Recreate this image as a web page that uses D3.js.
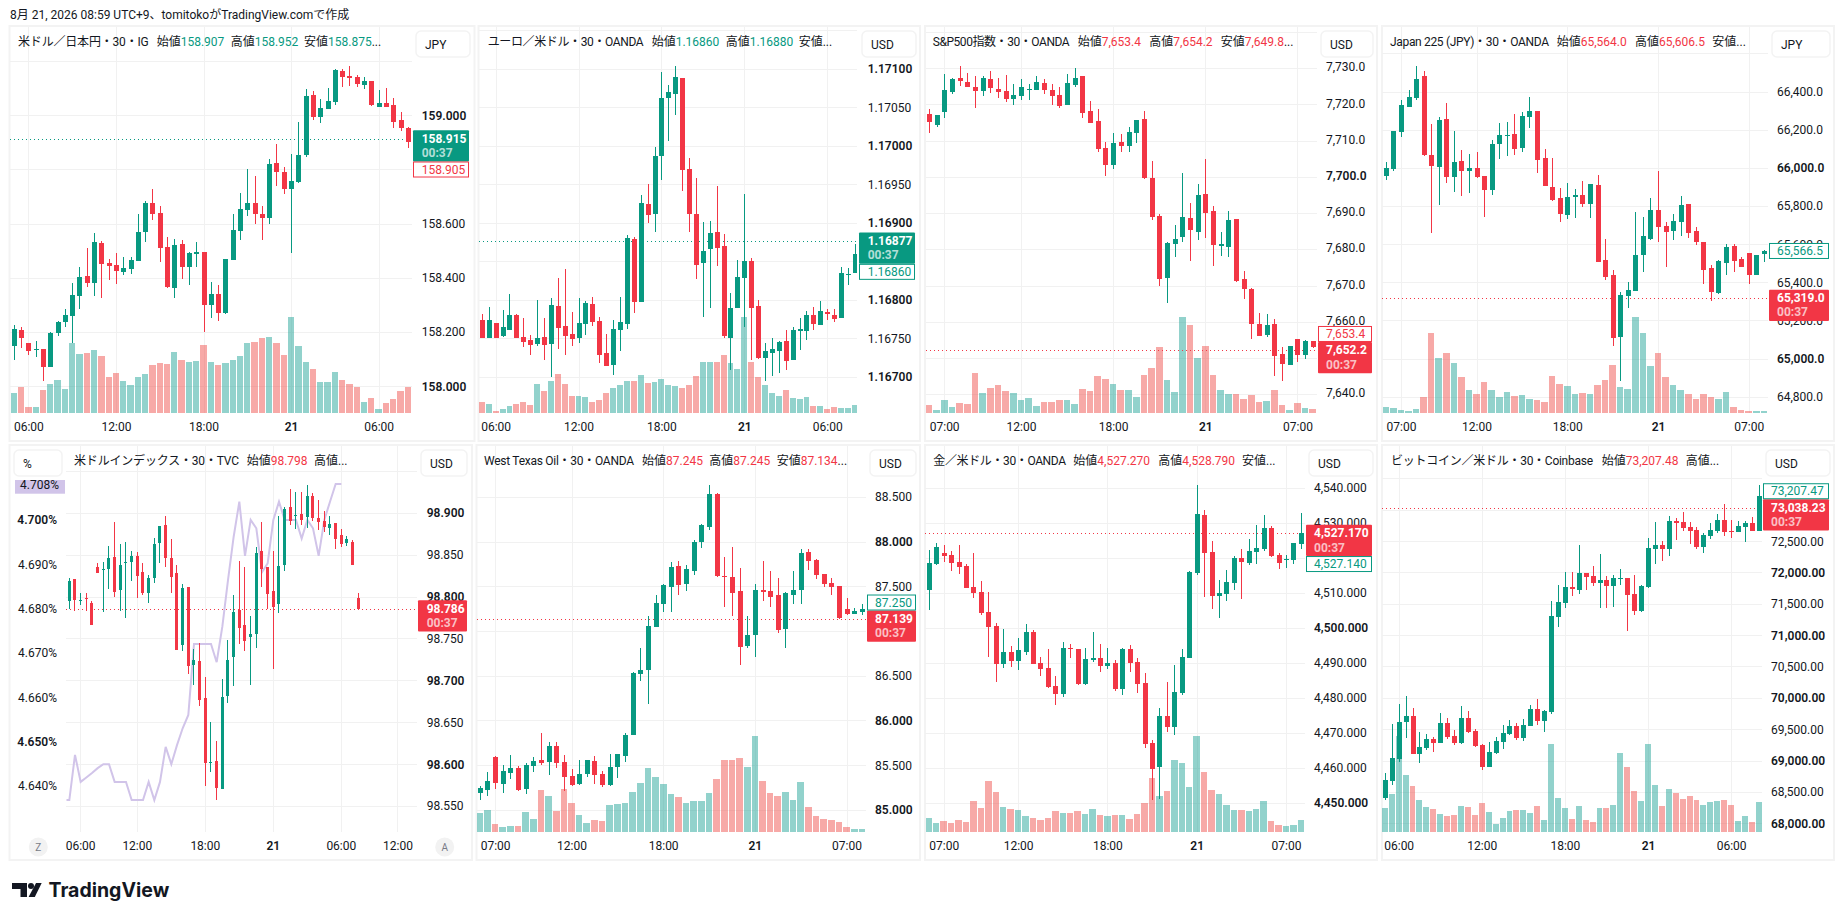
<!DOCTYPE html>
<html><head><meta charset="utf-8">
<script src="https://cdn.jsdelivr.net/npm/d3@7"></script>
<style>html,body{margin:0;padding:0;background:#fff;overflow:hidden}svg{display:block}text{font-family:Roboto,"Noto Sans CJK JP",sans-serif;font-size:12px;fill:#131722}</style>
</head><body><svg id="c" width="1844" height="920"></svg>
<script>
// ---------- DATA: [open, high, low, close] per 30-minute bar, volume in relative units ----------
const usdjpyOHLC=[[158.151,158.228,158.098,158.213],[158.209,158.220,158.143,158.181],[158.161,158.161,158.118,158.133],[158.135,158.169,158.111,158.139],[158.139,158.139,158.021,158.073],[158.074,158.202,158.074,158.198],[158.198,158.242,158.188,158.239],[158.239,158.287,158.220,158.264],[158.261,158.383,158.162,158.338],[158.335,158.442,158.287,158.405],[158.408,158.512,158.368,158.383],[158.383,158.567,158.335,158.534],[158.530,158.538,158.327,158.453],[158.456,158.471,158.394,158.445],[158.449,158.493,158.379,158.427],[158.423,158.478,158.412,158.438],[158.434,158.478,158.416,158.467],[158.464,158.637,158.464,158.571],[158.571,158.685,158.534,158.678],[158.678,158.729,158.615,158.637],[158.641,158.667,158.460,158.512],[158.515,158.552,158.364,158.368],[158.364,158.545,158.327,158.523],[158.526,158.541,158.397,158.442],[158.442,158.497,158.375,158.493],[158.490,158.534,158.442,158.497],[158.497,158.497,158.202,158.301],[158.301,158.386,158.253,158.342],[158.342,158.375,158.242,158.272],[158.272,158.471,158.268,158.471],[158.467,158.637,158.467,158.578],[158.574,158.715,158.541,158.656],[158.652,158.803,158.630,158.678],[158.678,158.777,158.600,158.637],[158.637,158.667,158.541,158.622],[158.622,158.840,158.600,158.822],[158.825,158.895,158.740,158.792],[158.792,158.811,158.711,158.729],[158.729,158.859,158.493,158.759],[158.755,158.977,158.752,158.855],[158.855,159.098,158.847,159.073],[159.076,159.091,158.984,158.995],[158.995,159.062,158.973,159.028],[159.025,159.102,159.025,159.054],[159.050,159.172,159.039,159.169],[159.165,159.172,159.106,159.143],[159.146,159.183,159.109,159.139],[159.143,159.150,159.106,159.117],[159.113,159.143,159.098,159.128],[159.128,159.128,159.036,159.039],[159.032,159.095,159.032,159.047],[159.047,159.102,159.032,159.032],[159.039,159.065,158.955,158.977],[158.984,159.014,158.943,158.955],[158.955,158.958,158.881,158.903]];
const usdjpyVolume=[60,78,18,18,69,87,99,72,210,177,180,189,171,108,120,96,84,108,117,144,150,147,183,159,153,156,204,153,144,150,159,171,210,213,225,228,210,174,288,201,153,132,93,93,123,99,87,78,33,45,12,30,42,66,78];
const usdjpyTicks=[158,158.2,158.4,158.6,158.8,159,159.2];
const usdjpyTickLabels=[158,158.2,158.4,158.6,159];
const usdjpyTimeIndex=[2,14,26,38,50];
const usdjpyTimeLabels=['06:00','12:00','18:00','21','06:00'];
const usdjpyLegend=['158.907','158.952','158.875'];

const eurusdOHLC=[[1.16774,1.16782,1.16751,1.16751],[1.16751,1.16791,1.16751,1.16774],[1.1677,1.1677,1.16751,1.16751],[1.16754,1.16787,1.16752,1.16765],[1.16761,1.16808,1.16761,1.16781],[1.16781,1.16782,1.16751,1.16751],[1.16752,1.16777,1.16739,1.16746],[1.16748,1.16755,1.16729,1.16742],[1.16743,1.168,1.16741,1.16751],[1.16752,1.16777,1.16722,1.16742],[1.16743,1.16803,1.167,1.16794],[1.16793,1.16829,1.16737,1.16764],[1.16767,1.16841,1.16729,1.16754],[1.16756,1.16785,1.16741,1.1675],[1.16751,1.16803,1.16745,1.1677],[1.16769,1.16799,1.16755,1.16796],[1.16795,1.16804,1.16767,1.16772],[1.16773,1.16778,1.16719,1.16729],[1.16732,1.16756,1.16715,1.16715],[1.16716,1.16774,1.16703,1.16763],[1.16761,1.16804,1.16734,1.16772],[1.16769,1.16885,1.16763,1.16881],[1.1688,1.16882,1.16783,1.16798],[1.16798,1.16937,1.16798,1.16926],[1.16925,1.16951,1.169,1.16911],[1.16912,1.16999,1.16889,1.16987],[1.16987,1.17097,1.16956,1.17063],[1.17063,1.1708,1.17007,1.17071],[1.17068,1.17104,1.17041,1.1709],[1.17089,1.17089,1.16942,1.16969],[1.16971,1.16985,1.16889,1.16912],[1.16912,1.16959,1.16828,1.16846],[1.16848,1.16902,1.16778,1.16864],[1.16867,1.16903,1.1679,1.16887],[1.16889,1.16948,1.16845,1.16868],[1.16871,1.16886,1.16751,1.16754],[1.16751,1.16809,1.16709,1.1679],[1.1679,1.16852,1.1679,1.1683],[1.16829,1.16938,1.16765,1.16851],[1.16851,1.16855,1.16722,1.1679],[1.16793,1.168,1.16724,1.16725],[1.16725,1.16745,1.16695,1.16734],[1.16732,1.16751,1.16702,1.16737],[1.16734,1.16747,1.16706,1.16746],[1.16747,1.16761,1.16709,1.16721],[1.16722,1.16765,1.16722,1.16761],[1.1676,1.16777,1.16735,1.16763],[1.1676,1.16786,1.16748,1.16781],[1.16781,1.16791,1.16761,1.16769],[1.16768,1.16799,1.16768,1.16786],[1.16785,1.16789,1.16774,1.16782],[1.16781,1.16789,1.16772,1.16776],[1.16777,1.16843,1.16777,1.16835],[1.16833,1.16842,1.1682,1.16834],[1.16835,1.16873,1.16835,1.1686]];
const eurusdVolume=[33,27,6,12,21,27,33,24,87,66,96,117,87,51,51,48,33,39,60,75,84,96,96,114,90,93,102,84,81,75,84,111,153,153,153,174,150,132,288,153,108,84,60,51,69,45,42,48,21,21,12,18,15,15,24];
const eurusdTicks=[1.167,1.1675,1.168,1.1685,1.169,1.1695,1.17,1.1705,1.171,1.1715];
const eurusdTickLabels=[1.167,1.1675,1.168,1.169,1.1695,1.17,1.1705,1.171];
const eurusdTimeIndex=[2,14,26,38,50];
const eurusdTimeLabels=['06:00','12:00','18:00','21','06:00'];
const eurusdLegend=['1.16860','1.16880'];

const spxOHLC=[[7717.5,7718.9,7712.2,7715.3],[7714.4,7717.2,7713.9,7717.2],[7718.0,7728.5,7716.4,7724.1],[7723.6,7727.4,7723.0,7727.1],[7727.4,7730.7,7725.2,7726.6],[7726.3,7728.8,7724.9,7724.9],[7724.9,7727.9,7719.1,7723.8],[7723.8,7727.9,7722.4,7727.4],[7727.1,7729.3,7723.3,7724.7],[7724.4,7727.4,7721.9,7723.6],[7723.8,7728.2,7720.8,7721.6],[7721.6,7725.8,7720.0,7722.7],[7722.4,7727.1,7721.3,7724.9],[7724.1,7725.8,7721.3,7724.4],[7724.1,7727.9,7724.1,7726.3],[7726.0,7727.1,7723.0,7724.1],[7724.1,7725.8,7720.0,7722.4],[7722.7,7724.9,7719.1,7719.7],[7720.0,7728.5,7720.0,7726.0],[7725.5,7730.2,7724.9,7727.4],[7727.9,7727.9,7716.4,7717.8],[7718.3,7721.1,7715.0,7715.0],[7715.5,7718.9,7707.0,7707.8],[7708.1,7709.8,7700.4,7703.4],[7703.4,7712.2,7702.3,7709.5],[7709.8,7712.0,7707.0,7708.6],[7708.6,7713.9,7707.0,7712.5],[7712.2,7715.8,7709.5,7715.8],[7716.1,7718.3,7699.5,7699.8],[7699.8,7704.5,7688.2,7689.1],[7689.3,7689.9,7670.0,7671.9],[7672.2,7682.2,7665.3,7681.9],[7681.6,7686.8,7678.0,7683.0],[7683.5,7701.2,7682.2,7689.1],[7688.8,7692.9,7676.9,7685.5],[7684.9,7698.2,7682.7,7695.1],[7695.4,7705.1,7683.3,7690.2],[7690.7,7692.1,7675.5,7681.3],[7681.0,7684.9,7678.3,7681.6],[7680.8,7690.7,7678.0,7688.2],[7688.5,7688.5,7671.1,7671.4],[7671.9,7674.1,7666.4,7669.2],[7669.2,7669.5,7655.4,7659.5],[7659.5,7662.6,7656.2,7656.2],[7656.5,7662.3,7655.9,7659.2],[7659.5,7660.9,7645.2,7650.7],[7651.2,7653.2,7643.8,7648.5],[7648.2,7653.4,7648.2,7653.4],[7655.4,7655.4,7649.0,7651.0],[7651.0,7655.1,7649.9,7654.8],[7654.8,7654.8,7652.9,7653.2]];
const spxVolume=[24,9,39,18,30,27,120,60,75,84,66,60,39,45,21,33,33,39,39,27,72,66,111,102,87,69,69,48,114,135,198,99,63,288,264,165,201,114,69,57,57,42,54,33,36,69,24,9,30,15,12];
const spxTicks=[7640,7650,7660,7670,7680,7690,7700,7710,7720,7730,7740];
const spxTickLabels=[7640,7660,7670,7680,7690,7700,7710,7720,7730];
const spxTimeIndex=[2,12,24,36,48];
const spxTimeLabels=['07:00','12:00','18:00','21','07:00'];
const spxLegend=['7,653.4','7,654.2','7,649.8'];

const nikkeiOHLC=[[65959.8,66033.2,65938.8,66001.7],[65996.5,66195.8,65986,66195.8],[66190.5,66358,66164.3,66332],[66321.6,66410.8,66321.6,66374],[66369,66536.6,66358,66468.5],[66484.2,66510.4,66064.7,66070],[66070,66232.5,65660.9,66012.2],[66007,66269.2,65807.7,66253.5],[66258.7,66342.6,65923,65954.6],[65954.6,66195.8,65875.9,66033.2],[66038.5,66096,65854.9,65986],[65986,66075.2,65870.6,66001.7],[66001.7,66085.7,65949.3,65954.6],[65959.8,65959.8,65744.8,65886.4],[65886.4,66148.6,65860,66127.6],[66127.6,66237.7,66049,66174.8],[66169.6,66243,66064.7,66174.8],[66180,66285,66070,66101.4],[66106.6,66295.4,66085.7,66274.4],[66269.2,66374,66211.5,66300.7],[66300.7,66300.7,65975.5,66043.7],[66054.2,66101.4,65907.4,65907.4],[65902,66054.2,65828.7,65834],[65844.4,65896.9,65718.6,65760.5],[65755.3,65923,65734.3,65849.7],[65849.7,65891.6,65739.5,65860],[65860,65933.6,65797.2,65813],[65813,65917.8,65739.5,65917.8],[65912.6,65965,65508.8,65508.8],[65519.3,65629.4,65414.4,65430],[65440.6,65466.9,65068.3,65110.3],[65115.5,65351.5,64884.8,65335.8],[65330.5,65403.9,65267.6,65362],[65356.7,65771,65356.7,65545.5],[65545.5,65744.8,65456.4,65645.2],[65629.4,65844.4,65624.2,65781.5],[65781.5,65986,65613.7,65692.3],[65697.6,65718.6,65482.6,65666.1],[65671.4,65760.5,65624.2,65723.8],[65718.6,65854.9,65645.2,65807.7],[65813,65813,65634.7,65660.9],[65671.4,65692.3,65598,65613.7],[65613.7,65613.7,65393.4,65466.9],[65477.3,65493,65304.3,65351.5],[65346.2,65519.3,65341,65514],[65503.6,65603.2,65440.6,65587.5],[65592.7,65603.2,65456.4,65514],[65524.5,65535,65482.6,65482.6],[65556,65556,65393.4,65440.6],[65440.6,65545.5,65440.6,65545.5],[65550.8,65571.7,65508.8,65566.5]];
const nikkeiVolume=[18,15,9,6,12,48,240,165,180,150,108,69,57,93,69,48,63,51,54,42,39,33,111,87,81,57,60,57,84,99,144,78,72,288,240,141,180,108,84,69,57,42,57,48,42,63,18,9,6,6,6];
const nikkeiTicks=[64800,65000,65200,65400,65600,65800,66000,66200,66400,66600];
const nikkeiTickLabels=[64800,65000,65200,65400,65600,65800,66000,66200,66400];
const nikkeiTimeIndex=[2,12,24,36,48];
const nikkeiTimeLabels=['07:00','12:00','18:00','21','07:00'];
const nikkeiLegend=['65,564.0','65,606.5'];

const dxyOHLC=[[98.7953,98.8228,98.7858,98.8192],[98.8216,98.8216,98.7834,98.7965],[98.7953,98.8049,98.7906,98.7965],[98.7989,98.8049,98.7834,98.7977],[98.7929,98.7953,98.7667,98.7667],[98.8359,98.8407,98.8288,98.8288],[98.8323,98.8419,98.7822,98.8335],[98.8335,98.861,98.8097,98.8467],[98.8479,98.8897,98.8001,98.8061],[98.8085,98.8634,98.7834,98.8383],[98.8407,98.8658,98.775,98.8419],[98.8419,98.855,98.8192,98.8491],[98.8491,98.8538,98.7989,98.8252],[98.83,98.8407,98.8025,98.8049],[98.8049,98.8264,98.7929,98.8228],[98.8228,98.8705,98.8168,98.8634],[98.8646,98.8849,98.8407,98.8849],[98.8861,98.8968,98.8359,98.8467],[98.8467,98.8694,98.8049,98.824],[98.8288,98.8383,98.7368,98.7368],[98.7428,98.8156,98.7356,98.8108],[98.812,98.812,98.7082,98.7177],[98.7189,98.738,98.695,98.7249],[98.7237,98.7452,98.67,98.6771],[98.6795,98.7046,98.5744,98.6019],[98.6019,98.6509,98.5912,98.6031],[98.6043,98.6282,98.5577,98.572],[98.5709,98.7022,98.5709,98.6807],[98.6819,98.7488,98.6735,98.7249],[98.7285,98.8025,98.6938,98.7822],[98.7846,98.8431,98.744,98.7631],[98.7667,98.8359,98.7356,98.7476],[98.7523,98.7774,98.695,98.7559],[98.7559,98.8598,98.7392,98.8526],[98.855,98.8897,98.812,98.8335],[98.8359,98.8359,98.7858,98.8037],[98.8073,98.855,98.7141,98.7882],[98.7917,98.8968,98.781,98.8371],[98.8383,98.9076,98.8311,98.9052],[98.9076,98.9291,98.8861,98.8908],[98.8968,98.9255,98.8813,98.898],[98.8992,98.9255,98.8861,98.892],[98.8956,98.9338,98.8825,98.9207],[98.9207,98.9243,98.8908,98.8944],[98.8944,98.9159,98.8801,98.8897],[98.8908,98.9028,98.8777,98.8837],[98.8825,98.8968,98.8741,98.8873],[98.8885,98.8885,98.8574,98.8694],[98.8741,98.8813,98.8598,98.8634],[98.8646,98.8729,98.861,98.8694],[98.8658,98.8682,98.8383,98.8383],[98.7989,98.8049,98.7858,98.7858]];
const dxyTicks=[98.55,98.6,98.65,98.7,98.75,98.8,98.85,98.9,98.95];
const dxyTickLabels=[98.55,98.6,98.65,98.7,98.75,98.8,98.85,98.9];
const dxyTimeIndex=[2,12,24,36,48,58];
const dxyTimeLabels=['06:00','12:00','18:00','21','06:00','12:00'];
const dxyLegend=['98.798'];
const yieldIndex=[-0.5,0,1,2,3,4,5,6,7,8,9,10,11,12,13,14,15,16,17,18,19,20,21,22,23,24,25,26,27,28,29,30,31,32,33,34,35,36,37,38,39,40,41,42,43,44,45,46,47,48];
const yieldValues=[4.6369,4.6369,4.6471,4.6410,4.6420,4.6430,4.6441,4.6450,4.6450,4.6410,4.6410,4.6410,4.6369,4.6369,4.6369,4.6410,4.6369,4.6410,4.6489,4.6450,4.6493,4.6531,4.6561,4.6721,4.6721,4.6721,4.6721,4.6680,4.6760,4.6865,4.6963,4.7042,4.6920,4.7001,4.6982,4.6883,4.6903,4.7001,4.7042,4.7001,4.7001,4.7001,4.6959,4.7001,4.6982,4.6920,4.7001,4.7042,4.7082,4.7082];
const yieldTicks=[4.64,4.65,4.66,4.67,4.68,4.69,4.70];

const wtiOHLC=[[85.193,85.272,85.115,85.249],[85.227,85.428,85.160,85.327],[85.596,85.607,85.238,85.305],[85.294,85.506,85.193,85.439],[85.417,85.618,85.350,85.473],[85.473,85.495,85.216,85.227],[85.238,85.529,85.182,85.506],[85.495,85.596,85.428,85.551],[85.562,85.864,85.506,85.529],[85.540,85.764,85.395,85.719],[85.719,85.764,85.473,85.529],[85.540,85.618,85.216,85.372],[85.383,85.462,85.272,85.283],[85.294,85.562,85.283,85.406],[85.406,85.562,85.372,85.562],[85.551,85.607,85.294,85.395],[85.406,85.439,85.260,85.283],[85.283,85.629,85.272,85.484],[85.484,85.629,85.361,85.629],[85.607,85.864,85.540,85.842],[85.842,86.547,85.842,86.535],[86.524,86.815,86.446,86.569],[86.569,87.173,86.189,87.061],[87.050,87.408,87.050,87.318],[87.307,87.531,87.218,87.520],[87.497,87.777,87.218,87.721],[87.732,87.788,87.408,87.520],[87.531,87.743,87.452,87.698],[87.676,88.023,87.631,88.000],[88.000,88.202,87.933,88.191],[88.168,88.638,88.135,88.537],[88.537,88.548,87.609,87.620],[87.620,87.833,87.273,87.609],[87.609,87.945,87.173,87.430],[87.452,87.710,86.625,86.826],[86.837,87.173,86.815,86.960],[86.960,87.531,86.714,87.464],[87.464,87.788,87.341,87.441],[87.452,87.676,87.273,87.385],[87.408,87.598,86.983,87.016],[87.027,87.441,86.815,87.430],[87.408,87.676,87.307,87.464],[87.464,87.922,87.307,87.877],[87.889,87.922,87.687,87.788],[87.799,87.810,87.587,87.631],[87.643,87.643,87.497,87.531],[87.542,87.598,87.408,87.497],[87.508,87.508,87.139,87.150],[87.251,87.374,87.184,87.195],[87.195,87.262,87.195,87.229],[87.218,87.307,87.184,87.251]];
const wtiVolume=[57,66,24,15,18,18,60,39,126,108,63,129,87,51,27,36,33,81,84,87,120,147,192,165,144,114,105,87,93,93,117,159,216,216,222,195,288,153,117,108,120,96,150,75,48,39,36,30,15,9,9];
const wtiTicks=[85,85.5,86,86.5,87,87.5,88,88.5];
const wtiTickLabels=[85,85.5,86,86.5,87.5,88,88.5];
const wtiTimeIndex=[2,12,24,36,48];
const wtiTimeLabels=['07:00','12:00','18:00','21','07:00'];
const wtiLegend=['87.245','87.245','87.134'];

const goldOHLC=[[4510.95,4522.38,4505.24,4518.67],[4518.38,4524.38,4518.10,4523.24],[4521.52,4523.81,4518.95,4520.67],[4520.95,4522.10,4516.38,4518.67],[4518.95,4523.81,4515.52,4517.52],[4517.81,4518.38,4511.52,4511.52],[4511.81,4521.52,4508.67,4510.10],[4510.38,4513.52,4503.81,4504.38],[4504.67,4510.38,4491.81,4500.38],[4500.67,4501.52,4484.67,4489.81],[4489.81,4499.81,4488.67,4493.24],[4493.24,4494.95,4488.95,4490.67],[4490.67,4497.24,4488.10,4493.81],[4493.24,4501.24,4492.38,4498.95],[4498.95,4499.52,4489.81,4489.81],[4490.10,4491.81,4486.38,4488.38],[4488.67,4494.10,4482.95,4483.24],[4483.52,4486.38,4478.10,4481.24],[4481.24,4496.10,4480.38,4494.38],[4494.38,4495.52,4491.52,4494.10],[4494.10,4494.10,4483.81,4484.10],[4484.10,4494.38,4483.81,4491.24],[4490.95,4498.95,4490.38,4491.52],[4491.52,4495.52,4487.52,4489.24],[4489.24,4494.38,4488.38,4490.10],[4490.10,4490.95,4482.10,4482.67],[4482.67,4494.38,4480.95,4494.10],[4494.10,4495.24,4487.52,4490.10],[4490.38,4491.52,4481.52,4484.10],[4484.38,4487.24,4465.81,4466.95],[4467.24,4468.10,4450.95,4459.81],[4460.38,4477.24,4451.24,4474.95],[4474.95,4484.67,4470.38,4471.81],[4471.81,4489.52,4469.52,4481.81],[4481.52,4494.10,4480.95,4491.81],[4491.52,4516.38,4491.52,4516.10],[4515.81,4540.95,4515.24,4532.67],[4532.38,4533.81,4508.95,4521.52],[4521.81,4524.95,4505.52,4509.24],[4509.24,4513.81,4502.95,4510.10],[4509.81,4516.67,4507.81,4513.24],[4512.95,4520.67,4510.95,4520.10],[4520.10,4522.67,4508.38,4518.95],[4518.67,4525.52,4518.10,4522.10],[4521.81,4529.52,4518.38,4522.95],[4522.67,4532.38,4522.10,4528.67],[4528.67,4529.24,4520.38,4520.67],[4520.95,4521.52,4516.95,4518.67],[4519.52,4520.95,4517.24,4519.81],[4519.52,4524.38,4518.38,4524.38],[4524.10,4532.95,4522.67,4527.24]];
const goldVolume=[42,27,33,27,36,30,93,72,153,120,75,69,66,48,42,36,42,63,57,57,63,54,69,51,48,51,51,39,54,87,162,108,123,216,207,135,288,180,126,114,81,66,66,63,69,93,33,21,18,21,36];
const goldTicks=[4450,4460,4470,4480,4490,4500,4510,4520,4530,4540];
const goldTickLabels=[4450,4460,4470,4480,4490,4500,4510,4530,4540];
const goldTimeIndex=[2,12,24,36,48];
const goldTimeLabels=['07:00','12:00','18:00','21','07:00'];
const goldLegend=['4,527.270','4,528.790'];

const btcOHLC=[[68411,68810,68380,68698],[68682,69591,68619,69049],[69033,69910,68985,69623],[69623,70037,69368,69718],[69718,69846,69113,69113],[69113,69463,68969,69224],[69208,69432,69176,69352],[69352,69384,69145,69288],[69288,69766,69288,69607],[69607,69687,69352,69384],[69400,69495,69256,69288],[69288,69878,69272,69687],[69687,69798,69447,69463],[69479,69511,69224,69240],[69256,69272,68858,68905],[68905,69304,68905,69145],[69129,69384,69113,69320],[69304,69575,69192,69447],[69432,69655,69416,69559],[69559,69607,69336,69368],[69368,69671,69320,69575],[69559,69894,69559,69830],[69830,69989,69575,69639],[69639,69814,69463,69798],[69782,71551,69750,71312],[71296,71806,71137,71535],[71520,72014,71440,71775],[71775,72014,71631,71743],[71727,72444,71663,71998],[71998,71998,71727,71934],[71950,72109,71790,71838],[71838,72300,71440,71886],[71886,71950,71440,71790],[71790,71966,71456,71918],[71902,72061,71806,71918],[71918,71918,71073,71647],[71663,71966,71328,71392],[71392,71806,71376,71790],[71775,72555,71759,72396],[72380,72811,72141,72444],[72444,72508,72189,72380],[72380,72906,72269,72826],[72826,72874,72524,72795],[72811,72970,72667,72715],[72731,72811,72460,72667],[72683,72731,72380,72412],[72412,72635,72316,72603],[72587,72795,72540,72683],[72667,72938,72635,72842],[72842,73097,72587,72651],[72667,72842,72555,72651],[72651,72826,72651,72747],[72731,72826,72492,72795],[72795,72890,72667,72667],[72667,73400,72667,73225]];
const btcVolume=[72,114,288,171,138,96,75,69,54,48,51,78,75,51,87,60,24,42,63,66,66,57,78,36,264,102,72,39,78,36,30,72,72,81,237,195,123,93,264,141,78,129,117,99,108,96,81,90,93,96,81,33,48,30,90];
const btcTicks=[68000,68500,69000,69500,70000,70500,71000,71500,72000,72500,73000,73500];
const btcTickLabels=[68000,68500,69000,69500,70000,70500,71000,71500,72000,72500];
const btcTimeIndex=[2,14,26,38,50];
const btcTimeLabels=['06:00','12:00','18:00','21','06:00'];
const btcLegend=['73,207.48'];

// ---------- LAYOUT / STYLE ----------
const UP='#089981',DOWN='#f23645',VUP='#26a69a',VDOWN='#ef5350',INK='#131722',GRID='#f1f1f1',FRAME='#f3f3f3';
const row1={top:26,bottom:441,base:413,timeY:427,btnTop:31,legendY:42};
const row2={top:445,bottom:860,base:832,timeY:846,btnTop:450,legendY:461};
const panels=[
{row:row1,frame:[9.5,474.5],plot:[10,412],bars:[14.33,408.33],yr:[386.67,115.67],dom:[158,159],ohlc:usdjpyOHLC,vol:usdjpyVolume,ticks:usdjpyTicks,labels:usdjpyTickLabels,ti:usdjpyTimeIndex,tl:usdjpyTimeLabels,fmt:'.3f',major:1,name:'米ドル／日本円・30・IG',nameW:130.7,legX:18,legXs:[156.7,230.7,304],leg:usdjpyLegend,legUp:true,cur:'JPY',btn:[416,470],curX:425,axisX:421.7,tag:[413,469],last:158.915,tagUp:true,sec:158.905,secUp:false,secPos:'below'},
{row:row1,frame:[478.5,920],plot:[479,857],bars:[482.33,855.33],yr:[377.33,69.33],dom:[1.167,1.171],ohlc:eurusdOHLC,vol:eurusdVolume,ticks:eurusdTicks,labels:eurusdTickLabels,ti:eurusdTimeIndex,tl:eurusdTimeLabels,fmt:'.5f',major:0.001,name:'ユーロ／米ドル・30・OANDA',nameW:156,legX:487.7,legXs:[651.7,725.7,798.7],leg:eurusdLegend,legUp:true,cur:'USD',btn:[862,916],curX:871,axisX:867.7,tag:[859,915],last:1.16877,tagUp:true,sec:1.1686,secUp:true,secPos:'below'},
{row:row1,frame:[925,1377],plot:[926,1317],bars:[929.33,1313.33],yr:[394.67,68.67],dom:[7640,7730],ohlc:spxOHLC,vol:spxVolume,ticks:spxTicks,labels:spxTickLabels,ti:spxTimeIndex,tl:spxTimeLabels,fmt:',.1f',major:100,name:'S&P500指数・30・OANDA',nameW:137,legX:932.7,legXs:[1077.7,1149.3,1220.7],leg:spxLegend,legUp:false,cur:'USD',btn:[1321,1373],curX:1330,axisX:1326,tag:[1318,1372],last:7652.2,tagUp:false,sec:7653.4,secUp:false,secPos:'above',labelDy:-1.3},
{row:row1,frame:[1382,1834],plot:[1382,1768],bars:[1386.33,1764.33],yr:[397.17,92],dom:[64800,66400],ohlc:nikkeiOHLC,vol:nikkeiVolume,ticks:nikkeiTicks,labels:nikkeiTickLabels,ti:nikkeiTimeIndex,tl:nikkeiTimeLabels,fmt:',.1f',major:1000,name:'Japan 225 (JPY)・30・OANDA',nameW:159,legX:1390,legXs:[1556.7,1635,1712.3],leg:nikkeiLegend,legUp:false,cur:'JPY',btn:[1772,1830],curX:1781,axisX:1777,tag:[1769,1829],last:65319,tagUp:false,sec:65566.5,secUp:true,secPos:'own'},
{row:row2,frame:[9.5,472],plot:[66,417],bars:[69.33,358.33],yr:[806.47,513.33],dom:[98.55,98.9],ohlc:dxyOHLC,vol:null,ticks:dxyTicks,labels:dxyTickLabels,ti:dxyTimeIndex,tl:dxyTimeLabels,fmt:'.3f',major:0.1,name:'米ドルインデックス・30・TVC',nameW:165,legX:74,legXs:[246.7,314],leg:dxyLegend,legUp:false,cur:'USD',btn:[421,467],curX:430,axisX:426.7,tag:[418,467],last:98.786,tagUp:false,bodyW:3,left:true},
{row:row2,frame:[476.5,920],plot:[477,866],bars:[480.33,862.33],yr:[810.27,497.33],dom:[85,88.5],ohlc:wtiOHLC,vol:wtiVolume,ticks:wtiTicks,labels:wtiTickLabels,ti:wtiTimeIndex,tl:wtiTimeLabels,fmt:'.3f',major:1,name:'West Texas Oil・30・OANDA',nameW:150,legX:484,legXs:[642,709.3,776.7],leg:wtiLegend,legUp:false,cur:'USD',btn:[870,916],curX:879,axisX:875,tag:[867,916],last:87.139,tagUp:false,sec:87.25,secUp:true,secPos:'above'},
{row:row2,frame:[925,1377],plot:[925,1305],bars:[929.33,1301.33],yr:[803.33,488.33],dom:[4450,4540],ohlc:goldOHLC,vol:goldVolume,ticks:goldTicks,labels:goldTickLabels,ti:goldTimeIndex,tl:goldTimeLabels,fmt:',.3f',major:50,name:'金／米ドル・30・OANDA',nameW:132.7,legX:933.3,legXs:[1073.3,1158.3,1242],leg:goldLegend,legUp:false,cur:'USD',btn:[1309,1373],curX:1318,axisX:1314,tag:[1306,1372],last:4527.17,tagUp:false,sec:4527.14,secUp:true,secPos:'below'},
{row:row2,frame:[1382,1834],plot:[1382,1762],bars:[1385.33,1759.33],yr:[823.8,541.5],dom:[68000,72500],ohlc:btcOHLC,vol:btcVolume,ticks:btcTicks,labels:btcTickLabels,ti:btcTimeIndex,tl:btcTimeLabels,fmt:',.2f',major:1000,name:'ビットコイン／米ドル・30・Coinbase',nameW:202,legX:1391,legXs:[1601.7,1685.7],leg:btcLegend,legUp:false,cur:'USD',btn:[1766,1830],curX:1775,axisX:1771,tag:[1763,1829],last:73038.23,tagUp:false,sec:73207.47,secUp:true,secPos:'above'}
];
const svg=d3.select('#c');
svg.append('rect').attr('width',1844).attr('height',920).attr('fill','#fff');
svg.append('text').attr('x',10).attr('y',14.5).attr('dominant-baseline','central').text('8月 21, 2026 08:59 UTC+9、tomitokoがTradingView.comで作成');

function isMajor(v,m){const r=v/m;return Math.abs(r-Math.round(r))<1e-6;}
function dline(g,y,x0,x1,c){g.append('line').attr('x1',x0).attr('x2',x1).attr('y1',y).attr('y2',y).attr('stroke',c).attr('stroke-width',1).attr('stroke-dasharray','1 3').attr('shape-rendering','crispEdges');}

panels.forEach((p,pi)=>{
  const g=svg.append('g'),r=p.row;
  g.append('rect').attr('x',p.frame[0]).attr('y',r.top).attr('width',p.frame[1]-p.frame[0]).attr('height',r.bottom-r.top).attr('fill','#fff').attr('stroke',FRAME).attr('stroke-width',2);
  const x=d3.scaleLinear().domain([0,p.ohlc.length-1]).range(p.bars);
  const y=d3.scaleLinear().domain(p.dom).range(p.yr);
  const step=x(1)-x(0),bw=p.bodyW||5;
  const clipId='clip'+pi;
  g.append('clipPath').attr('id',clipId).append('rect').attr('x',p.plot[0]).attr('y',r.top+1).attr('width',p.plot[1]-p.plot[0]).attr('height',r.base-r.top-1);
  const plot=g.append('g').attr('clip-path',`url(#${clipId})`);
  // grid
  plot.selectAll('.gy').data(p.ticks).enter().append('line').attr('x1',p.plot[0]).attr('x2',p.plot[1]).attr('y1',d=>y(d)).attr('y2',d=>y(d)).attr('stroke',GRID).attr('shape-rendering','crispEdges');
  plot.selectAll('.gx').data(p.ti).enter().append('line').attr('x1',d=>x(d)).attr('x2',d=>x(d)).attr('y1',r.top).attr('y2',r.base).attr('stroke',GRID).attr('shape-rendering','crispEdges');
  // volume
  if(p.vol){
    const v=d3.scaleLinear().domain([0,288]).range([r.base,r.base-96]);
    const L=i=>Math.round(x(i)-step/2);
    plot.selectAll('.v').data(p.vol).enter().append('rect').attr('x',(d,i)=>L(i)).attr('width',(d,i)=>L(i+1)-L(i)-1).attr('y',d=>Math.round(v(d))).attr('height',d=>r.base-Math.round(v(d))).attr('fill',(d,i)=>p.ohlc[i][3]>=p.ohlc[i][0]?VUP:VDOWN).attr('fill-opacity',.5).attr('shape-rendering','crispEdges');
  }
  // yield line
  if(p.left){
    const yl=d3.scaleLinear().domain([4.64,4.70]).range([786.33,520.33]);
    const line=d3.line().x((d,i)=>x(yieldIndex[i])).y(d=>yl(d));
    plot.append('path').attr('d',line(yieldValues)).attr('fill','none').attr('stroke','#d1c4e9').attr('stroke-width',2);
    yieldTicks.forEach(t=>{g.append('text').attr('x',57).attr('y',yl(t)).attr('text-anchor','end').attr('dominant-baseline','central').attr('font-weight',isMajor(t,0.05)?600:400).text(t.toFixed(3)+'%');});
    g.append('rect').attr('x',15).attr('y',480).attr('width',50).attr('height',13.7).attr('fill','#d1c4e9');
    g.append('text').attr('x',20).attr('y',yl(4.708)).attr('dominant-baseline','central').text('4.708%');
    g.append('rect').attr('x',14).attr('y',r.btnTop).attr('width',48).attr('height',26).attr('rx',5).attr('fill','#fff').attr('stroke',FRAME).attr('stroke-width',1.5);
    g.append('text').attr('x',23).attr('y',r.btnTop+14).attr('dominant-baseline','central').text('%');
    [[38.3,'Z'],[444.7,'A']].forEach(a=>{
      g.append('circle').attr('cx',a[0]).attr('cy',847).attr('r',9.5).attr('fill','#f2f2f2');
      g.append('text').attr('x',a[0]).attr('y',847).attr('text-anchor','middle').attr('dominant-baseline','central').style('font-size','10px').style('fill','#787b86').text(a[1]);
    });
  }
  // last price line
  const lastC=p.tagUp?UP:DOWN;
  dline(plot,Math.round(y(p.last))+.5,p.plot[0],p.plot[1],lastC);
  // candles
  const c=plot.selectAll('.c').data(p.ohlc).enter().append('g').attr('shape-rendering','crispEdges');
  const col=d=>d[3]>=d[0]?UP:DOWN;
  const px=i=>Math.floor(x(i));
  c.append('line').attr('x1',(d,i)=>px(i)+.5).attr('x2',(d,i)=>px(i)+.5).attr('y1',d=>Math.round(y(d[1]))).attr('y2',d=>Math.round(y(d[2]))).attr('stroke',col).attr('stroke-width',1);
  c.append('rect').attr('x',(d,i)=>px(i)-(bw-1)/2).attr('width',bw).attr('y',d=>Math.round(y(Math.max(d[0],d[3])))).attr('height',d=>Math.max(1,Math.round(y(Math.min(d[0],d[3])))-Math.round(y(Math.max(d[0],d[3]))))).attr('fill',col);
  // price axis labels
  const f=d3.format(p.fmt);
  g.selectAll('.pl').data(p.labels).enter().append('text').attr('x',p.axisX).attr('y',d=>y(d)+(p.labelDy||0)).attr('dominant-baseline','central').attr('font-weight',d=>isMajor(d,p.major)?600:400).text(d=>f(d));
  // time axis labels
  g.selectAll('.tl').data(p.tl).enter().append('text').attr('x',(d,i)=>x(p.ti[i])).attr('y',r.timeY).attr('text-anchor','middle').attr('dominant-baseline','central').attr('font-weight',d=>d==='21'?600:400).text(d=>d);
  // legend
  g.append('text').attr('x',p.legX).attr('y',r.legendY).attr('dominant-baseline','central').attr('textLength',p.nameW).attr('lengthAdjust','spacing').text(p.name);
  const lt=g.append('text').attr('y',r.legendY).attr('dominant-baseline','central');
  const names=['始値','高値','安値'],lc=p.legUp?UP:DOWN;
  for(let i=0;i<p.legXs.length;i++){
    lt.append('tspan').attr('x',p.legXs[i]).text(names[i]);
    if(i<p.leg.length)lt.append('tspan').style('fill',lc).text(p.leg[i]);
  }
  lt.append('tspan').text('...');
  // currency button
  g.append('rect').attr('x',p.btn[0]).attr('y',r.btnTop).attr('width',p.btn[1]-p.btn[0]).attr('height',26).attr('rx',5).attr('fill','#fff').attr('stroke',FRAME).attr('stroke-width',1.5);
  g.append('text').attr('x',p.curX).attr('y',r.btnTop+14).attr('dominant-baseline','central').text(p.cur);
  // price tags
  const ly=y(p.last),top=ly-8.5,tw=p.tag[1]-p.tag[0],tx=p.axisX;
  g.append('rect').attr('x',p.tag[0]).attr('y',top).attr('width',tw).attr('height',31.3).attr('rx',1).attr('fill',lastC);
  g.append('text').attr('x',tx).attr('y',ly).attr('dominant-baseline','central').attr('font-weight',700).style('fill','#fff').text(f(p.last));
  g.append('text').attr('x',tx).attr('y',ly+14.3).attr('dominant-baseline','central').attr('font-weight',700).style('fill','#fff').style('fill-opacity',.7).text('00:37');
  if(p.sec!==undefined){
    const sc=p.secUp?UP:DOWN,h=16;
    const sy=p.secPos==='below'?top+31.3:p.secPos==='above'?top-h:y(p.sec)-h/2;
    g.append('rect').attr('x',p.tag[0]+.5).attr('y',sy+.5).attr('width',tw-1).attr('height',h-1).attr('fill','#fff').attr('stroke',sc);
    g.append('text').attr('x',tx).attr('y',sy+h/2).attr('dominant-baseline','central').style('fill',sc).text(f(p.sec));
  }
});
// TradingView logo
const logo=svg.append('g').attr('fill',INK);
logo.append('path').attr('d','M12 883H27V897H20.5V889H12Z');
logo.append('circle').attr('cx',31).attr('cy',886).attr('r',3);
logo.append('path').attr('d','M36 883H41.7L34.8 897H28.6Z');
svg.append('text').attr('x',48.5).attr('y',896.5).style('font-size','19.5px').style('font-weight',700).style('font-family','Inter,Roboto,sans-serif').text('TradingView');
</script></body></html>
